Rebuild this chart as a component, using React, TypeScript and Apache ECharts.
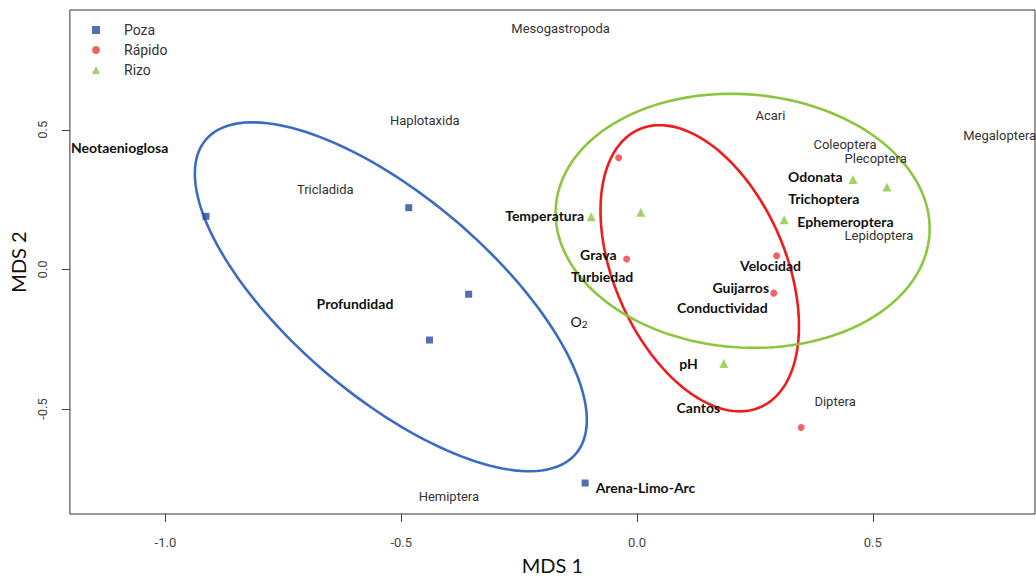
import React, { useEffect, useRef } from "react";
import * as echarts from "echarts";

// ---- Data ----
const xTicks = [-1.0, -0.5, 0.0, 0.5];
const yTicks = [-0.5, 0.0, 0.5];

const groupNames = ["Poza", "Rápido", "Rizo"];

const pozaPoints = [
  [-0.914, 0.19],
  [-0.484, 0.221],
  [-0.357, -0.089],
  [-0.44, -0.253],
  [-0.11, -0.765],
];
const rapidoPoints = [
  [-0.039, 0.4],
  [-0.022, 0.037],
  [0.296, 0.049],
  [0.29, -0.085],
  [0.348, -0.566],
];
const rizoPoints = [
  [-0.097, 0.189],
  [0.008, 0.205],
  [0.312, 0.178],
  [0.458, 0.322],
  [0.53, 0.295],
  [0.184, -0.337],
];

// Ellipses: centre and two conjugate semi-axis vectors (data units)
const ellipseCenters = [
  [-0.522, -0.098],
  [0.133, 0.004],
  [0.224, 0.174],
];
const ellipseAxisA = [
  [0.392, -0.563],
  [0.128, -0.498],
  [0.396, -0.052],
];
const ellipseAxisB = [
  [-0.138, -0.271],
  [-0.167, -0.121],
  [-0.021, -0.452],
];

// Species labels (regular)
const speciesNames = [
  "Mesogastropoda", "Haplotaxida", "Tricladida", "Acari", "Coleoptera",
  "Plecoptera", "Lepidoptera", "Megaloptera", "Diptera", "Hemiptera",
];
const speciesX = [-0.162, -0.45, -0.661, 0.283, 0.441, 0.506, 0.513, 0.769, 0.42, -0.399];
const speciesY = [0.861, 0.532, 0.287, 0.55, 0.447, 0.396, 0.12, 0.479, -0.472, -0.812];

// Bold labels (environmental variables and some taxa)
const boldNames = [
  "Neotaenioglosa", "Profundidad", "Temperatura", "Grava", "Turbiedad",
  "Velocidad", "Guijarros", "Conductividad", "Odonata", "Trichoptera",
  "Ephemeroptera", "pH", "Cantos", "Arena-Limo-Arc",
];
const boldX = [-1.097, -0.598, -0.196, -0.082, -0.074, 0.283, 0.22, 0.181, 0.378, 0.396, 0.442, 0.109, 0.13, 0.018];
const boldY = [0.435, -0.121, 0.193, 0.053, -0.026, 0.015, -0.064, -0.138, 0.334, 0.254, 0.171, -0.337, -0.493, -0.78];

const o2Label = { x: -0.123, y: -0.186 };

const pointColors = ["#2b49a3", "#f03a3e", "#8cc63f"];
const ellipseColors = ["#3b6cc0", "#ee1c1c", "#8cc63f"];

export default function App() {
  const ref = useRef<HTMLDivElement>(null);

  useEffect(() => {
    if (!ref.current) return;
    const chart = echarts.init(ref.current, null, { renderer: "svg" });

    const ellipseData = ellipseCenters.map((c, i) => [
      c[0], c[1], ellipseAxisA[i][0], ellipseAxisA[i][1], ellipseAxisB[i][0], ellipseAxisB[i][1],
    ]);

    const option: any = {
      animation: false,
      backgroundColor: "#ffffff",
      grid: {
        left: 65,
        right: 1,
        top: 10,
        bottom: 51,
        show: true,
        borderColor: "#333",
        borderWidth: 1,
      },
      legend: {
        left: 87,
        top: 17,
        orient: "vertical",
        itemWidth: 8,
        itemHeight: 8,
        itemGap: 4,
        symbolKeepAspect: true,
        textStyle: { fontFamily: "Roboto", fontSize: 14, color: "#333", lineHeight: 16, padding: [0, 0, 0, 19] },
        data: [
          { name: "Poza", icon: "rect" },
          { name: "Rápido", icon: "circle" },
          { name: "Rizo", icon: "triangle" },
        ],
      },
      xAxis: {
        type: "value",
        min: -1.2025,
        max: 0.8439,
        splitLine: { show: false },
        axisLine: { show: false, onZero: false },
        axisTick: { show: true, customValues: xTicks, length: 8, lineStyle: { color: "#444" } },
        axisLabel: {
          customValues: xTicks,
          formatter: (v: number) => v.toFixed(1),
          margin: 22,
          fontSize: 13,
          fontFamily: "Roboto",
          color: "#444",
        },
        name: "MDS 1",
        nameLocation: "middle",
        nameGap: 41,
        nameTextStyle: { fontSize: 20, fontFamily: "Lato", color: "#111" },
      },
      yAxis: {
        type: "value",
        min: -0.876,
        max: 0.929,
        splitLine: { show: false },
        axisLine: { show: false, onZero: false },
        axisTick: { show: true, customValues: yTicks, length: 8, lineStyle: { color: "#444" } },
        axisLabel: {
          customValues: yTicks,
          formatter: (v: number) => v.toFixed(1),
          rotate: 90,
          margin: 21,
          fontSize: 13,
          fontFamily: "Roboto",
          color: "#444",
        },
        name: "MDS 2",
        nameLocation: "middle",
        nameGap: 38,
        nameTextStyle: { fontSize: 20, fontFamily: "Lato", color: "#111" },
      },
      series: [
        {
          type: "custom",
          name: "ellipses",
          silent: true,
          data: ellipseData,
          renderItem: (params: any, api: any) => {
            const i = params.dataIndex;
            const cx = api.value(0), cy = api.value(1);
            const ux = api.value(2), uy = api.value(3);
            const vx = api.value(4), vy = api.value(5);
            const pts: number[][] = [];
            const n = 160;
            for (let k = 0; k <= n; k++) {
              const t = (k / n) * Math.PI * 2;
              pts.push(api.coord([cx + ux * Math.cos(t) + vx * Math.sin(t), cy + uy * Math.cos(t) + vy * Math.sin(t)]));
            }
            return {
              type: "polyline",
              shape: { points: pts },
              style: { stroke: ellipseColors[i], lineWidth: 2.6, fill: null },
            };
          },
        },
        {
          type: "scatter",
          name: groupNames[0],
          symbol: "rect",
          symbolSize: 7,
          itemStyle: { color: pointColors[0] },
          data: pozaPoints,
        },
        {
          type: "scatter",
          name: groupNames[1],
          symbol: "circle",
          symbolSize: 7,
          itemStyle: { color: pointColors[1] },
          data: rapidoPoints,
        },
        {
          type: "scatter",
          name: groupNames[2],
          symbol: "triangle",
          symbolSize: 9,
          itemStyle: { color: pointColors[2] },
          data: rizoPoints,
        },
        {
          type: "custom",
          name: "species",
          silent: true,
          data: speciesNames.map((_, i) => [speciesX[i], speciesY[i]]),
          renderItem: (params: any, api: any) => {
            const p = api.coord([api.value(0), api.value(1)]);
            return {
              type: "text",
              x: p[0],
              y: p[1],
              style: {
                text: speciesNames[params.dataIndex],
                fontFamily: "Roboto",
                fontSize: 13,
                fill: "#333",
                align: "center",
                verticalAlign: "middle",
              },
            };
          },
        },
        {
          type: "custom",
          name: "variables",
          silent: true,
          data: boldNames.map((_, i) => [boldX[i], boldY[i]]),
          renderItem: (params: any, api: any) => {
            const p = api.coord([api.value(0), api.value(1)]);
            return {
              type: "text",
              x: p[0],
              y: p[1],
              style: {
                text: boldNames[params.dataIndex],
                fontFamily: "Lato",
                fontWeight: "bold",
                fontSize: 14,
                fill: "#111",
                align: "center",
                verticalAlign: "middle",
              },
            };
          },
        },
        {
          type: "custom",
          name: "o2",
          silent: true,
          data: [[o2Label.x, o2Label.y]],
          renderItem: (params: any, api: any) => {
            const p = api.coord([api.value(0), api.value(1)]);
            return {
              type: "text",
              x: p[0],
              y: p[1],
              style: {
                text: "{a|O}{b|2}",
                align: "center",
                verticalAlign: "middle",
                rich: {
                  a: { fontFamily: "Lato", fontSize: 14, fill: "#111", lineHeight: 16 },
                  b: { fontFamily: "Lato", fontSize: 10, fill: "#111", lineHeight: 16, padding: [5, 0, 0, 0] },
                },
              },
            };
          },
        },
      ],
    };

    chart.setOption(option);
    return () => chart.dispose();
  }, []);

  return (
    <div
      ref={ref}
      style={{ position: "fixed", left: 0, top: 0, width: 1036, height: 580, background: "#fff" }}
    />
  );
}
